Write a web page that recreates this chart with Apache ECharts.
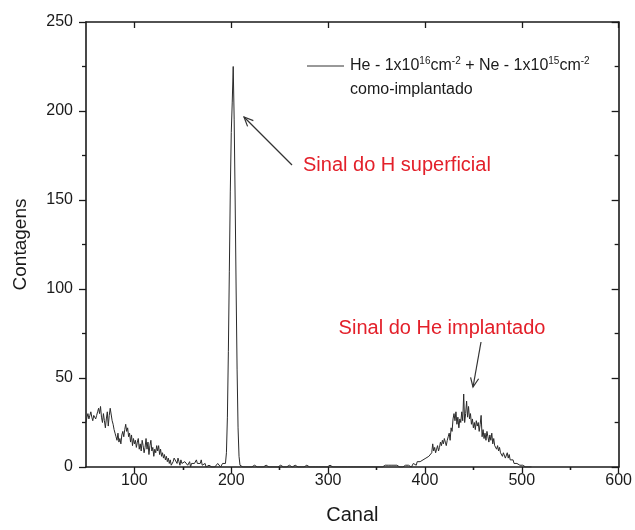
<!DOCTYPE html>
<html>
<head>
<meta charset="utf-8">
<script src="https://cdn.jsdelivr.net/npm/echarts@6/dist/echarts.min.js"></script>
<style>
  html, body { margin: 0; padding: 0; background: #fff; }
  #chart { width: 635px; height: 530px; }
</style>
</head>
<body>
<div id="chart"></div>
<script>
// contagens por canal
var lowStart = 50;
var lowCounts = [
  25, 28, 30, 27, 29, 31, 28, 26, 29, 30, 27,
  29, 31, 33, 30, 34, 28, 25, 30, 26, 22,
  27, 31, 23, 29, 33, 32, 26, 24, 21, 19,
  17, 15, 19, 14, 16, 13, 18, 20, 17, 21,
  24, 20, 22, 17, 19, 14, 18, 12, 16, 13,
  15, 11, 14, 16, 10, 13, 9, 15, 12, 8,
  11, 16, 10, 14, 7, 12, 15, 9, 11, 6,
  10, 8, 12, 9, 12, 7, 10, 6, 8, 5,
  7, 4, 6, 3, 5, 2, 4, 1, 0, 3,
  5, 6, 4, 2, 5, 3, 1, 4, 2, 3,
  1, 3, 2, 4, 1, 2, 3, 0, 2, 1,
  3, 2, 1, 4, 2, 3, 1, 2, 4, 1,
  0, 1, 2, 0, 1, 0, 1, 0, 1, 0,
  1, 0, 0, 1, 0, 2, 3, 1, 0, 1, 2, 1, 1
];
var hPeakStart = 194;
var hPeakCounts = [2, 8, 28, 65, 110, 155, 188, 205, 225, 195, 150, 100, 55, 22, 6, 1, 0];
var flatStart = 211;
var flatCounts = [
  0, 0, 1, 0, 0, 0, 0, 0, 1, 0,
  0, 0, 0, 1, 0, 0, 0, 0, 0, 0,
  0, 0, 0, 0, 0, 1, 0, 0, 0, 0,
  0, 0, 0, 0, 0, 0, 1, 0, 0, 0,
  1, 0, 0, 0, 0, 0, 0, 0, 0, 1,
  0, 0, 0, 0, 0, 1, 0, 0, 0, 0,
  0, 0, 1, 0, 0, 0, 0, 1, 0, 0,
  0, 0, 0, 0, 0, 0, 0, 0, 1, 0,
  0, 0, 0, 0, 0, 0, 0, 0, 0, 0,
  0, 1, 0, 0, 0, 0, 0, 0, 0, 0,
  0, 0, 0, 0, 1, 0, 0, 0, 0, 0,
  0, 0, 0, 0, 0, 0, 1, 0, 0, 0,
  0, 0, 0, 0, 0, 0, 0, 0, 1, 0,
  0, 1, 0, 0, 0, 0, 0, 1, 0, 0,
  0, 0, 0, 1, 0, 0, 0, 0, 1, 0,
  0, 1, 0, 0, 1, 0, 0, 1, 0, 0,
  1, 0, 1, 0, 0, 1, 0, 1, 0, 1,
  0, 1, 1, 0
];
var heStart = 385;
var heCounts = [
  1, 0, 1, 2, 1, 2, 1, 3, 2, 2,
  3, 4, 2, 4, 5, 3, 5, 6, 4, 6,
  7, 5, 8, 13, 9, 11, 8, 10, 12, 9,
  11, 14, 12, 15, 13, 16, 14, 12, 15, 17,
  19, 15, 22, 20, 27, 30, 26, 31, 24, 28,
  22, 27, 25, 31, 26, 41, 25, 30, 37, 28,
  34, 27, 30, 24, 27, 22, 25, 21, 26, 23,
  25, 20, 24, 29, 17, 21, 16, 19, 15, 20,
  17, 14, 18, 15, 19, 13, 16, 12, 11, 10,
  12, 9, 11, 8, 9, 6, 8, 7, 5, 6,
  8, 5, 7, 4, 5, 3, 4, 2, 3, 2,
  2, 1, 2, 1, 0, 1, 1, 0, 1, 0,
  0, 1, 0, 0, 1, 0
];

var xMajorTicks = [100, 200, 300, 400, 500, 600];
var xMinorTicks = [150, 250, 350, 450, 550];

var spectrum = [];
function addSegment(start, counts) {
  for (var i = 0; i < counts.length; i++) spectrum.push([start + i, counts[i]]);
}
addSegment(lowStart, lowCounts);
addSegment(hPeakStart, hPeakCounts);
addSegment(flatStart, flatCounts);
addSegment(heStart, heCounts);

var font = 'Liberation Sans, Arial, sans-serif';
var ink = '#1a1a1a';
var red = '#e3202a';

function arrow(x1, y1, x2, y2) {
  // linha com ponta aberta em (x2, y2)
  var a = Math.atan2(y2 - y1, x2 - x1), L = 10, w = 0.42;
  return [
    { type: 'line', shape: { x1: x1, y1: y1, x2: x2, y2: y2 }, style: { stroke: '#333', lineWidth: 1.2 } },
    { type: 'polyline', shape: { points: [
      [x2 - L * Math.cos(a - w), y2 - L * Math.sin(a - w)], [x2, y2],
      [x2 - L * Math.cos(a + w), y2 - L * Math.sin(a + w)]] },
      style: { stroke: '#333', lineWidth: 1.2, fill: null } }
  ];
}

var myChart = echarts.init(document.getElementById('chart'));

function xAx(pos, ticks, len, inside, opts) {
  return Object.assign({
    type: 'value', position: pos, min: 50, max: 600,
    axisLine: { show: false },
    axisTick: { show: true, inside: inside, length: len, customValues: ticks, lineStyle: { color: ink, width: 1.3 } },
    axisLabel: { show: false },
    splitLine: { show: false }
  }, opts || {});
}

var option = {
  animation: false,
  backgroundColor: '#fff',
  grid: { left: 86, right: 16, top: 22, bottom: 63, containLabel: false },
  xAxis: [
    xAx('bottom', xMajorTicks, 6, false, {
      axisLine: { show: true, onZero: false, lineStyle: { color: ink, width: 1.6 } },
      axisLabel: { show: true, customValues: xMajorTicks, margin: 6, fontSize: 16, color: ink, fontFamily: font },
      name: 'Canal', nameLocation: 'middle', nameGap: 38,
      nameTextStyle: { fontSize: 20, color: ink, fontFamily: font }
    }),
    xAx('bottom', xMinorTicks, 3, false),
    xAx('top', xMajorTicks, 6, true, {
      axisLine: { show: true, onZero: false, lineStyle: { color: ink, width: 1.6 } }
    }),
    xAx('top', xMinorTicks, 3, true)
  ],
  yAxis: [
    {
      type: 'value', position: 'left', min: 0, max: 250, interval: 50,
      axisLine: { show: true, onZero: false, lineStyle: { color: ink, width: 1.6 } },
      axisTick: { show: true, length: 7, lineStyle: { color: ink, width: 1.3 } },
      minorTick: { show: true, splitNumber: 2, length: 4, lineStyle: { color: ink, width: 1.3 } },
      axisLabel: { margin: 13, fontSize: 16, color: ink, fontFamily: font },
      splitLine: { show: false },
      name: 'Contagens', nameLocation: 'middle', nameGap: 56,
      nameTextStyle: { fontSize: 19, color: ink, fontFamily: font }
    },
    {
      type: 'value', position: 'right', min: 0, max: 250, interval: 50,
      axisLine: { show: true, onZero: false, lineStyle: { color: ink, width: 1.6 } },
      axisTick: { show: true, inside: true, length: 7, lineStyle: { color: ink, width: 1.3 } },
      minorTick: { show: true, splitNumber: 2, length: 4, lineStyle: { color: ink, width: 1.3 } },
      axisLabel: { show: false },
      splitLine: { show: false }
    }
  ],
  series: [{
    name: 'He + Ne',
    type: 'line',
    xAxisIndex: 0, yAxisIndex: 0,
    data: spectrum,
    showSymbol: false,
    sampling: null,
    lineStyle: { color: '#2a2a2a', width: 1 }
  }],
  graphic: [
    { type: 'line', shape: { x1: 307, y1: 66, x2: 344, y2: 66 }, style: { stroke: '#333', lineWidth: 1 } },
    { type: 'text', x: 350, y: 66, style: {
      text: '{n|He - 1x10}{s|16}{n|cm}{s|-2}{n| + Ne - 1x10}{s|15}{n|cm}{s|-2}',
      verticalAlign: 'middle',
      rich: {
        n: { fontSize: 16, lineHeight: 20, fill: ink, fontFamily: font },
        s: { fontSize: 10, lineHeight: 10, verticalAlign: 'top', fill: ink, fontFamily: font }
      }
    } },
    { type: 'text', x: 350, y: 90, style: { text: 'como-implantado', fontSize: 16, fill: ink, fontFamily: font, verticalAlign: 'middle' } },
    { type: 'text', x: 303, y: 165, style: { text: 'Sinal do H superficial', fontSize: 20, fill: red, fontFamily: font, verticalAlign: 'middle' } },
    { type: 'text', x: 442, y: 328, style: { text: 'Sinal do He implantado', fontSize: 20, fill: red, fontFamily: font, align: 'center', verticalAlign: 'middle' } }
  ].concat(arrow(292, 165, 244, 117)).concat(arrow(481, 342, 473, 387))
};

myChart.setOption(option);
</script>
</body>
</html>
